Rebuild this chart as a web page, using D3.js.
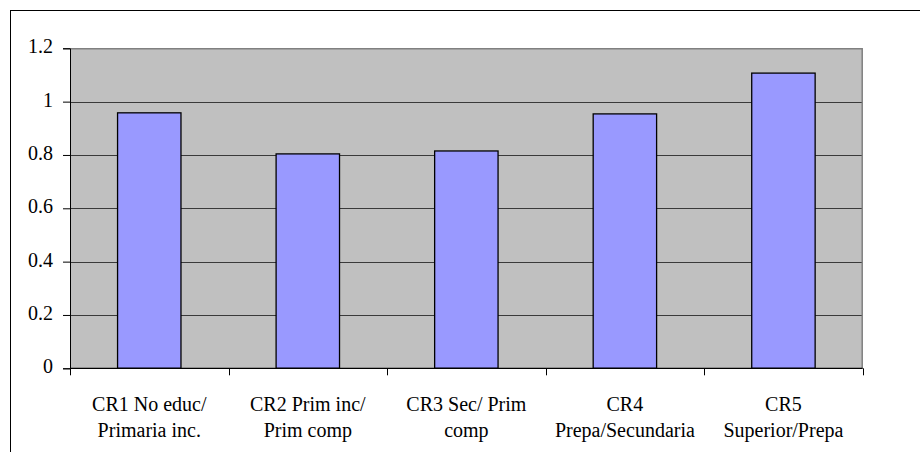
<!DOCTYPE html>
<html>
<head>
<meta charset="utf-8">
<script src="https://cdn.jsdelivr.net/npm/d3@7"></script>
<style>
  html, body { margin: 0; padding: 0; background: #fff; }
  svg { display: block; }
  svg text { font-family: "Liberation Serif", "Times New Roman", Times, serif; }
</style>
</head>
<body>
<svg id="chart" width="920" height="452"></svg>
<script>
// Education-level ratios per category
const categories = [
  ["CR1 No educ/", "Primaria inc."],
  ["CR2 Prim inc/", "Prim comp"],
  ["CR3 Sec/ Prim", "comp"],
  ["CR4", "Prepa/Secundaria"],
  ["CR5", "Superior/Prepa"]
];
const values = [0.958, 0.804, 0.815, 0.954, 1.107];
const yTicks = [0, 0.2, 0.4, 0.6, 0.8, 1, 1.2];
const yTickLabels = ["0", "0.2", "0.4", "0.6", "0.8", "1", "1.2"];

const svg = d3.select("#chart");

// outer frame (runs past the right and bottom edges)
svg.append("rect")
  .attr("x", 10.5).attr("y", 10.5)
  .attr("width", 1000).attr("height", 1000)
  .attr("fill", "none").attr("stroke", "#000").attr("stroke-width", 1);

const plot = { left: 70, right: 862.7, top: 48.3, bottom: 368.3 };

const x = d3.scaleBand()
  .domain(d3.range(categories.length))
  .range([plot.left, plot.right])
  .paddingInner(0.6)
  .paddingOuter(0.3);

const y = d3.scaleLinear()
  .domain([0, 1.2])
  .range([plot.bottom, plot.top]);

// plot background
svg.append("rect")
  .attr("x", plot.left).attr("y", plot.top)
  .attr("width", plot.right - plot.left).attr("height", plot.bottom - plot.top)
  .attr("fill", "#c0c0c0");

// top and right border of plot area
svg.append("path")
  .attr("d", `M${plot.left},${plot.top + 0.5}H${plot.right - 0.5}V${plot.bottom}`)
  .attr("fill", "none").attr("stroke", "#808080").attr("stroke-width", 1.5);

// horizontal gridlines
svg.append("g")
  .selectAll("line")
  .data(yTicks.filter(t => t > 0 && t < 1.2))
  .join("line")
  .attr("x1", plot.left).attr("x2", plot.right - 1)
  .attr("y1", d => Math.round(y(d)) + 0.5).attr("y2", d => Math.round(y(d)) + 0.5)
  .attr("stroke", "#3a3a3a").attr("stroke-width", 1);

// bars
svg.append("g")
  .selectAll("rect")
  .data(values)
  .join("rect")
  .attr("x", (d, i) => x(i))
  .attr("y", d => y(d))
  .attr("width", x.bandwidth())
  .attr("height", d => y(0) - y(d))
  .attr("fill", "#9999ff")
  .attr("stroke", "#000").attr("stroke-width", 1.3);

// y axis
const yAxis = d3.axisLeft(y)
  .tickValues(yTicks)
  .tickFormat((d, i) => yTickLabels[i])
  .tickSize(7)
  .tickPadding(10);
const gy = svg.append("g")
  .attr("transform", `translate(${plot.left},0)`)
  .call(yAxis)
  .attr("font-size", 20);
gy.select(".domain").attr("stroke", "#000");
gy.selectAll(".tick line").attr("stroke", "#000");
gy.selectAll(".tick text")
  .attr("fill", "#000")
  .attr("dy", "0.23em");

// x axis line with ticks at category boundaries
const boundaries = d3.range(categories.length + 1).map(i => plot.left + i * x.step());
svg.append("line")
  .attr("x1", plot.left).attr("x2", plot.right)
  .attr("y1", plot.bottom).attr("y2", plot.bottom)
  .attr("stroke", "#000").attr("stroke-width", 1.3);
svg.append("g")
  .selectAll("line")
  .data(boundaries)
  .join("line")
  .attr("x1", d => Math.round(d) + 0.5).attr("x2", d => Math.round(d) + 0.5)
  .attr("y1", plot.bottom).attr("y2", plot.bottom + 7)
  .attr("stroke", "#000");

// category labels (two lines)
const labels = svg.append("g")
  .attr("font-size", 20)
  .selectAll("text")
  .data(categories)
  .join("text")
  .attr("x", (d, i) => x(i) + x.bandwidth() / 2)
  .attr("y", 410.7)
  .attr("text-anchor", "middle")
  .attr("fill", "#000");
labels.selectAll("tspan")
  .data(d => d)
  .join("tspan")
  .attr("x", function () { return d3.select(this.parentNode).attr("x"); })
  .attr("dy", (d, i) => i === 0 ? 0 : 26.6)
  .text(d => d);
</script>
</body>
</html>
